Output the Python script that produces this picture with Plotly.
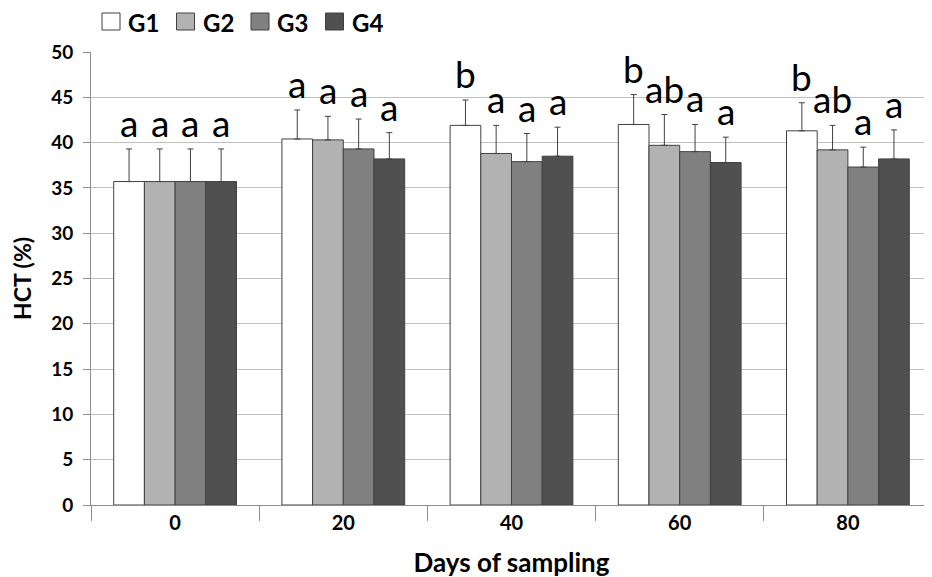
import plotly.graph_objects as go

days = ["0", "20", "40", "60", "80"]
groups = ["G1", "G2", "G3", "G4"]
g1 = [35.7, 40.4, 41.9, 42.0, 41.3]
g2 = [35.7, 40.3, 38.8, 39.7, 39.2]
g3 = [35.7, 39.3, 37.9, 39.0, 37.3]
g4 = [35.7, 38.2, 38.5, 37.8, 38.2]
g1_err = [3.6, 3.2, 2.8, 3.3, 3.1]
g2_err = [3.6, 2.6, 3.1, 3.4, 2.7]
g3_err = [3.6, 3.3, 3.1, 3.0, 2.2]
g4_err = [3.6, 2.9, 3.2, 2.8, 3.2]
g1_letters = ["a", "a", "b", "b", "b"]
g2_letters = ["a", "a", "a", "ab", "ab"]
g3_letters = ["a", "a", "a", "a", "a"]
g4_letters = ["a", "a", "a", "a", "a"]

values = [g1, g2, g3, g4]
errors = [g1_err, g2_err, g3_err, g4_err]
letters = [g1_letters, g2_letters, g3_letters, g4_letters]
colors = ["#ffffff", "#b2b2b2", "#808080", "#505050"]

FONT = "Lato"
OFF = 8  # page body margin
W, H = 932, 577
# target plot box in page pixels: x 91..932, y 52..505
ML, MT = 91 - OFF, 52 - OFF
PW, PH = 932 - 91, 505 - 52
MR = W - ML - PW
MB = H - MT - PH
bargap = 0.27

fig = go.Figure()
for name, vals, errs, col in zip(groups, values, errors, colors):
    fig.add_trace(go.Bar(
        x=days, y=vals, name=name, showlegend=False,
        marker=dict(color=col, line=dict(color="#404040", width=1)),
        error_y=dict(type="data", symmetric=False, array=errs,
                     arrayminus=[0] * len(errs), color="#404040",
                     thickness=1, width=3),
    ))

bw = (1 - bargap) / 4
for gi in range(4):
    for di in range(len(days)):
        fig.add_annotation(
            x=di + (gi - 1.5) * bw, y=values[gi][di] + errors[gi][di],
            text=letters[gi][di], showarrow=False, yanchor="bottom",
            yshift=2, font=dict(family=FONT, size=37, color="#000000"),
        )

# manual legend (page pixel layout converted to paper coords)
def px(x):
    return (x - OFF - ML) / PW

def py(y):
    return (MT + PH - (y - OFF)) / PH

for i, (name, col) in enumerate(zip(groups, colors)):
    x0 = 102 + i * 74.5
    fig.add_shape(type="rect", xref="paper", yref="paper",
                  x0=px(x0), x1=px(x0 + 18), y0=py(30), y1=py(13),
                  fillcolor=col, line=dict(color="#404040", width=1))
    fig.add_annotation(xref="paper", yref="paper", x=px(x0 + 24), y=py(23),
                       xanchor="left", yanchor="middle", showarrow=False,
                       text=name,
                       font=dict(family=FONT, size=24, color="#000000", weight="bold"))

fig.update_layout(
    width=W, height=H,
    margin=dict(l=ML, r=MR, t=MT, b=MB),
    paper_bgcolor="white", plot_bgcolor="white",
    barmode="group", bargap=bargap, bargroupgap=0,
    font=dict(family=FONT, color="#000000"),
    showlegend=False,
)

fig.update_xaxes(
    type="category", showline=True, linecolor="#8c8c8c", linewidth=1,
    ticks="outside", tickson="boundaries", ticklen=15, tickcolor="#8c8c8c",
    tickfont=dict(family=FONT, size=20, color="#000000", weight="bold"),
    title=dict(text="Days of sampling", standoff=20,
               font=dict(family=FONT, size=26, color="#000000", weight="bold")),
    showgrid=False, automargin=False,
)
fig.update_yaxes(
    range=[0, 50], dtick=5, showline=True, linecolor="#8c8c8c", linewidth=1,
    ticks="outside", ticklen=7, tickcolor="#8c8c8c", ticklabelstandoff=6,
    showgrid=True, gridcolor="#c0c0c0", gridwidth=1, zeroline=False,
    tickfont=dict(family=FONT, size=19, color="#000000", weight="bold"),
    title=dict(text="HCT (%)", standoff=18,
               font=dict(family=FONT, size=23, color="#000000", weight="bold")),
    automargin=False,
)

fig.write_html("out.html")
